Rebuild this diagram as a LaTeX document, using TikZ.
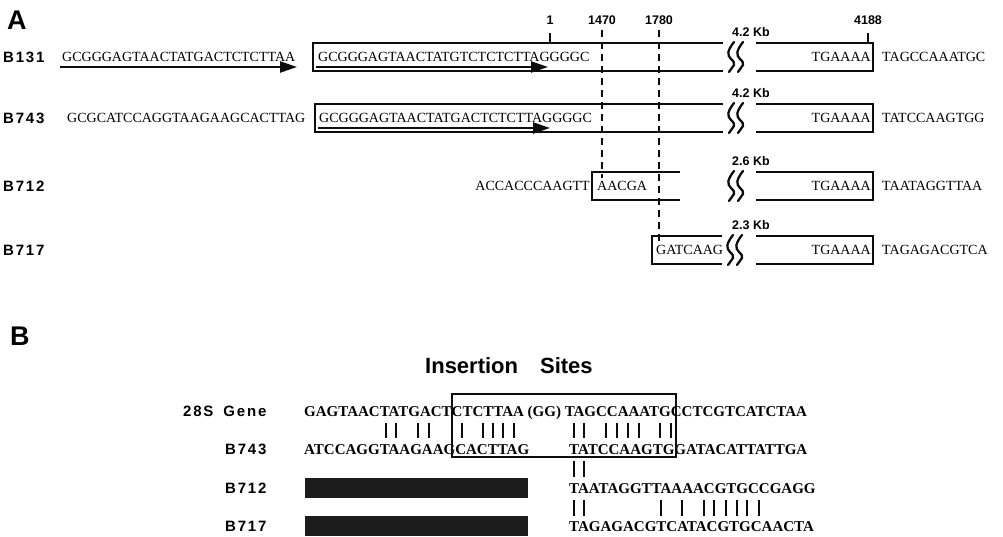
\documentclass[tikz,border=0pt]{standalone}
\usepackage{fontspec}
\setmainfont{Liberation Serif}
\setsansfont{Liberation Sans}
\newfontfamily\lblfont[LetterSpace=12]{Liberation Sans}
\usetikzlibrary{arrows.meta,positioning}
\definecolor{LineClr}{rgb}{0.05,0.05,0.05}
\definecolor{BarClr}{rgb}{0.11,0.11,0.11}

\tikzset{
  seqA/.style={font=\fontsize{14}{14}\selectfont,inner sep=0pt,anchor=base west},
  seqB/.style={font=\fontsize{15}{15}\selectfont\bfseries,inner sep=0pt,anchor=base west},
  clone/.style={font=\fontsize{15}{15}\selectfont\lblfont\bfseries,inner sep=0pt,anchor=base west},
  kb/.style={font=\fontsize{12.5}{12.5}\selectfont\sffamily\bfseries,inner sep=0pt,anchor=base west},
  posn/.style={font=\fontsize{12.5}{12.5}\selectfont\sffamily\bfseries,inner sep=0pt,anchor=base},
  panel/.style={font=\fontsize{27}{27}\selectfont\sffamily\bfseries,inner sep=0pt,anchor=base west},
  boxline/.style={draw=LineClr,line width=2.2pt},
  readarrow/.style={draw=LineClr,line width=2.3pt,-{Triangle[length=17pt,width=11pt]}},
  siteline/.style={draw=LineClr,line width=2pt,dash pattern=on 7pt off 5pt},
  match/.style={draw=LineClr,line width=2pt},
  greybar/.style={fill=BarClr},
  brk/.pic={
    \foreach \dx in {0,9}
      \draw[LineClr,line width=2.3pt,line cap=round]
        (\dx+6,-15) .. controls (\dx-1,-6) and (\dx-1,-2) .. (\dx+3,2)
        .. controls (\dx+6,5) .. (\dx+6,8) -- (\dx+1,15);
  }
}

\begin{document}
\begin{tikzpicture}[x=1pt,y=-1pt]
\useasboundingbox (0,0) rectangle (1003,537);

\node[panel] (lblA) at (7,30) {A};

\node[posn] (p1) at (550,25) {1};
\node[posn] (p1470) at (602,25) {1470};
\node[posn] (p1780) at (659,25) {1780};
\node[posn] (p4188) at (868,25) {4188};
\draw[match] (550,33) -- (550,43);
\draw[match] (868,33) -- (868,43);
\draw[siteline] (602,30) -- (602,178);
\draw[siteline] (659,30) -- (659,242);

% B131
\node[clone] (b131) at (3,62.5) {B131};
\node[seqA] (f131) at (62,61.6) {GCGGGAGTAACTATGACTCTCTTAA};
\draw[readarrow] (60,67) -- (297,67);
\draw[boxline] (723,43) -- (313,43) -- (313,71) -- (723,71);
\node[seqA] (g131) at (318,61.6) {GCGGGAGTAACTATGTCTCTCTTAGGGGC};
\draw[readarrow] (316,67) -- (548,67);
\pic at (728,57) {brk};
\node[kb] (k131) at (732,37) {4.2 Kb};
\draw[boxline] (756,43) -- (873,43) -- (873,71) -- (756,71);
\node[seqA,anchor=base east] (t131) at (871,61.6) {TGAAAA};
\node[seqA] (e131) at (882,61.6) {TAGCCAAATGC};

% B743
\node[clone] (b743) at (3,123.5) {B743};
\node[seqA] (f743) at (67,122.6) {GCGCATCCAGGTAAGAAGCACTTAG};
\draw[boxline] (723,104) -- (315,104) -- (315,132) -- (723,132);
\node[seqA] (g743) at (319,122.6) {GCGGGAGTAACTATGACTCTCTTAGGGGC};
\draw[readarrow] (318,128) -- (550,128);
\pic at (728,118) {brk};
\node[kb] (k743) at (732,98) {4.2 Kb};
\draw[boxline] (756,104) -- (873,104) -- (873,132) -- (756,132);
\node[seqA,anchor=base east] (t743) at (871,122.6) {TGAAAA};
\node[seqA] (e743) at (882,122.6) {TATCCAAGTGG};

% B712
\node[clone] (b712) at (3,191.5) {B712};
\node[seqA,anchor=base east] (f712) at (590,190.6) {ACCACCCAAGTT};
\draw[boxline] (680,172) -- (592,172) -- (592,200) -- (680,200);
\node[seqA] (g712) at (597,190.6) {AACGA};
\pic at (728,186) {brk};
\node[kb] (k712) at (732,166) {2.6 Kb};
\draw[boxline] (756,172) -- (873,172) -- (873,200) -- (756,200);
\node[seqA,anchor=base east] (t712) at (871,190.6) {TGAAAA};
\node[seqA] (e712) at (882,190.6) {TAATAGGTTAA};

% B717
\node[clone] (b717) at (3,255.5) {B717};
\draw[boxline] (722,236) -- (652,236) -- (652,264) -- (722,264);
\node[seqA] (g717) at (656,254.6) {GATCAAG};
\pic at (727,250) {brk};
\node[kb] (k717) at (732,230) {2.3 Kb};
\draw[boxline] (756,236) -- (873,236) -- (873,264) -- (756,264);
\node[seqA,anchor=base east] (t717) at (871,254.6) {TGAAAA};
\node[seqA] (e717) at (882,254.6) {TAGAGACGTCA};

\node[panel] (lblB) at (10,345) {B};
\node[font=\fontsize{22}{22}\selectfont\sffamily\bfseries,inner sep=0pt,anchor=base west]
  (title) at (425,373) {Insertion\hspace{22pt}Sites};

\node[clone] (gene28) at (183,416) {28S\hspace{10pt}Gene};
\node[clone] (c743) at (225,454) {B743};
\node[clone] (c712) at (225,493) {B712};
\node[clone] (c717) at (225,531) {B717};

\node[seqB] (sg) at (304,416) {GAGTAACTATGACTCTCTTAA (GG) TAGCCAAATGCCTCGTCATCTAA};
\node[seqB] (s743a) at (304,454) {ATCCAGGTAAGAAGCACTTAG};
\node[seqB] (s743b) at (569,454) {TATCCAAGTGGATACATTATTGA};
\node[seqB] (s712) at (569,493) {TAATAGGTTAAAACGTGCCGAGG};
\node[seqB] (s717) at (569,531) {TAGAGACGTCATACGTGCAACTA};
\draw[boxline] (452,394) rectangle (676,457);
\path[greybar] (305,478) rectangle (528,498);
\path[greybar] (305,516) rectangle (528,536);

\foreach \x in {385.7,396.1,417.7,429,461.5,482.7,493.1,503.1,513.5,574,584.4,606,617,628,638.6,660,671}
  \draw[match] (\x,423) -- (\x,438);
\foreach \x in {574,584.4}
  \draw[match] (\x,461) -- (\x,477);
\foreach \x in {574,584.4,661,682.4,703.5,714.4,725.7,736.5,747.4,758.6}
  \draw[match] (\x,500) -- (\x,516);

\end{tikzpicture}
\end{document}
